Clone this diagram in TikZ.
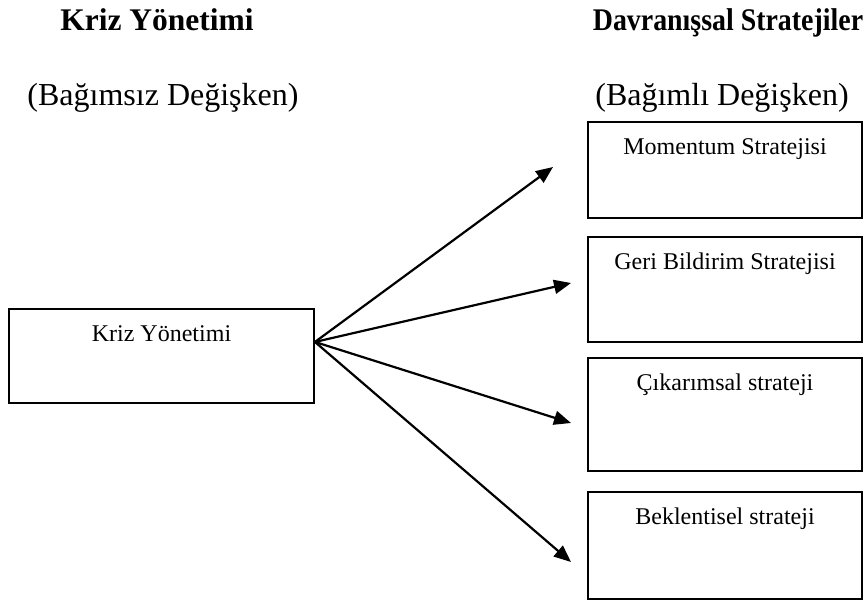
\documentclass[tikz,border=0pt]{standalone}
\usepackage{fontspec}
\setmainfont{Liberation Serif}
\usetikzlibrary{arrows.meta}

\tikzset{
  heading/.style={anchor=base, font=\fontsize{31.5}{36}\selectfont\bfseries, inner sep=0pt},
  subhead/.style={anchor=base, font=\fontsize{32}{38}\selectfont, inner sep=0pt},
  varbox/.style={draw, line width=1.9pt, anchor=north, inner sep=0pt,
    text height=33pt, font=\fontsize{24}{28}\selectfont},
  effect/.style={line width=2.2pt, -{Triangle[length=17pt,width=14pt]}}
}

\begin{document}
\begin{tikzpicture}[x=1pt,y=-1pt]
  \useasboundingbox (0,0) rectangle (866,605);

  % column headings
  \node[heading] (h1) at (157,30) {Kriz Yönetimi};
  \node[heading] (h2) at (728,30) {\scalebox{0.885}[1]{Davranışsal Stratejiler}};
  \node[subhead] (s1) at (163,105) {(Bağımsız Değişken)};
  \node[subhead] (s2) at (722,105) {(Bağımlı Değişken)};

  % independent variable
  \node[varbox, minimum width=305pt, text depth=61pt] (kriz) at (161.5,308) {Kriz Yönetimi};

  % dependent variables
  \node[varbox, minimum width=274pt, text depth=63pt] (mom) at (725,121) {Momentum Stratejisi};
  \node[varbox, minimum width=274pt, text depth=72pt] (geri) at (725,236) {Geri Bildirim Stratejisi};
  \node[varbox, minimum width=274pt, text depth=80pt] (cik) at (725,357) {Çıkarımsal strateji};
  \node[varbox, minimum width=274pt, text depth=74pt] (bek) at (725,491) {Beklentisel strateji};

  % arrow origin and tips
  \coordinate (src) at ([yshift=14pt]kriz.east);
  \coordinate (t1) at (553,167);
  \coordinate (t2) at (571,283);
  \coordinate (t3) at (571,423);
  \coordinate (t4) at (571,562);

  \draw[effect] (src) -- (t1);
  \draw[effect] (src) -- (t2);
  \draw[effect] (src) -- (t3);
  \draw[effect] (src) -- (t4);
\end{tikzpicture}
\end{document}
